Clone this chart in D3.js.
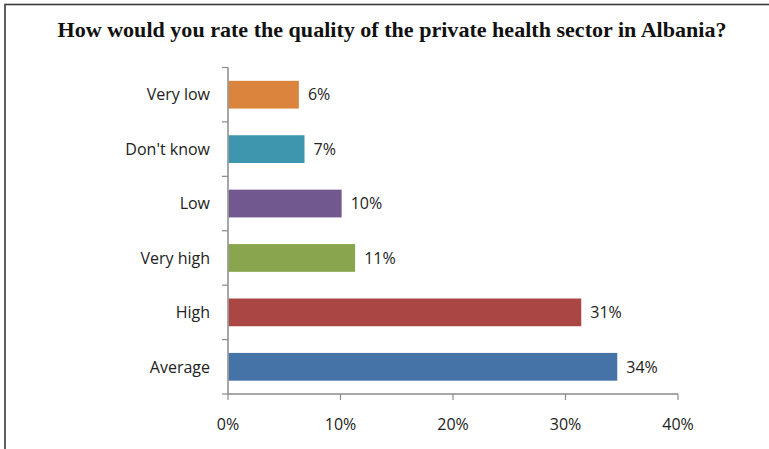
<!DOCTYPE html>
<html><head><meta charset="utf-8">
<script src="https://cdn.jsdelivr.net/npm/d3@7"></script>
<style>body{margin:0;background:#fff}svg{display:block}</style>
</head><body>
<svg id="c" width="769" height="449"></svg>
<script>
const categories = ["Very low","Don't know","Low","Very high","High","Average"];
const values = [6.3, 6.8, 10.1, 11.3, 31.4, 34.6];
const valueLabels = ["6%","7%","10%","11%","31%","34%"];
const colors = ["#DB843D","#3D96AE","#71588F","#89A54E","#AA4643","#4572A7"];
const xTicks = [0,10,20,30,40];
const title = "How would you rate the quality of the private health sector in Albania?";

const svg = d3.select("#c");
svg.append("rect").attr("x",5).attr("y",4.5).attr("width",900).attr("height",600)
  .attr("fill","none").attr("stroke","#3a3a3a").attr("stroke-width",1.6);

svg.append("text").attr("x",392).attr("y",37).attr("text-anchor","middle")
  .attr("font-family","'Liberation Serif','Times New Roman',serif").attr("font-weight","bold")
  .attr("font-size",22).attr("fill","#111").attr("textLength",669).attr("lengthAdjust","spacingAndGlyphs")
  .text(title);

const x = d3.scaleLinear().domain([0,40]).range([228,678]);
const y = d3.scaleBand().domain(categories).range([67.5,394]).paddingInner(0.49).paddingOuter(0.245);

const font = "'Open Sans','Noto Sans',sans-serif";
const axisColor = "#8a8a8a";
const fs = 16;

// bars
svg.selectAll("rect.bar").data(categories).join("rect").attr("class","bar")
  .attr("x",x(0)+0.5).attr("y",d=>y(d))
  .attr("width",(d,i)=>x(values[i])-x(0)-0.5).attr("height",y.bandwidth())
  .attr("fill",(d,i)=>colors[i]);

// value labels
svg.selectAll("text.val").data(categories).join("text").attr("class","val")
  .attr("x",(d,i)=>x(values[i])+9).attr("y",d=>y(d)+y.bandwidth()/2)
  .attr("dy","0.36em").attr("font-family",font).attr("font-size",fs).attr("fill","#222")
  .text((d,i)=>valueLabels[i]);

// y axis
const yAxis = svg.append("g");
yAxis.append("line").attr("x1",x(0)).attr("x2",x(0)).attr("y1",67.5).attr("y2",394)
  .attr("stroke",axisColor).attr("stroke-width",1.5);
const bounds = d3.range(categories.length+1).map(i=>67.5+i*(394-67.5)/categories.length);
yAxis.selectAll("line.t").data(bounds).join("line").attr("class","t")
  .attr("x1",x(0)-6).attr("x2",x(0)).attr("y1",d=>d).attr("y2",d=>d)
  .attr("stroke",axisColor).attr("stroke-width",1.2);
yAxis.selectAll("text").data(categories).join("text")
  .attr("x",x(0)-18).attr("y",d=>y(d)+y.bandwidth()/2).attr("dy","0.36em")
  .attr("text-anchor","end").attr("font-family",font).attr("font-size",fs).attr("fill","#222")
  .text(d=>d);

// x axis
const xAxis = svg.append("g");
xAxis.append("line").attr("x1",x(0)).attr("x2",x(40)).attr("y1",394).attr("y2",394)
  .attr("stroke",axisColor).attr("stroke-width",1.5);
xAxis.selectAll("line.t").data(xTicks).join("line").attr("class","t")
  .attr("x1",d=>x(d)).attr("x2",d=>x(d)).attr("y1",394).attr("y2",400)
  .attr("stroke",axisColor).attr("stroke-width",1.2);
xAxis.selectAll("text").data(xTicks).join("text")
  .attr("x",d=>x(d)).attr("y",424).attr("dy","0.36em").attr("text-anchor","middle")
  .attr("font-family",font).attr("font-size",fs).attr("fill","#222")
  .text(d=>d+"%");
</script>
</body></html>
